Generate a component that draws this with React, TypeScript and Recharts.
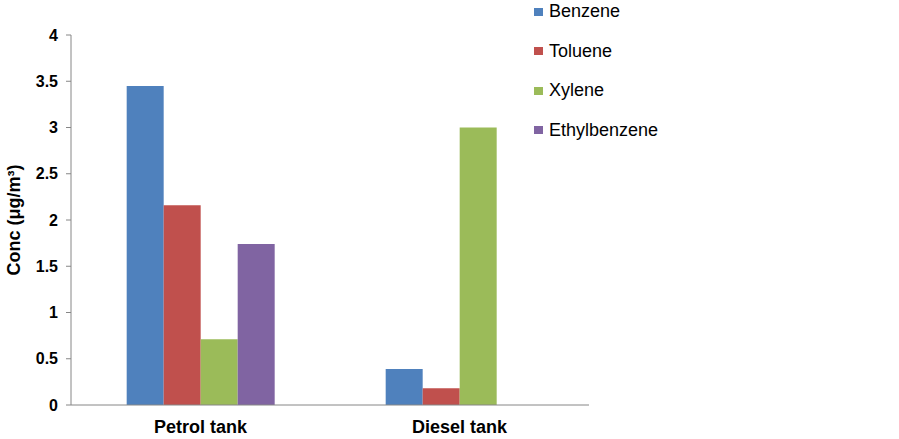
import { Bar, BarChart, XAxis, YAxis } from "recharts"

const tanks = ["Petrol tank", "Diesel tank"]
const benzene = [3.45, 0.39]
const toluene = [2.16, 0.18]
const xylene = [0.71, 3.0]
const ethylbenzene = [1.74, 0]
const yTicks = [0, 0.5, 1, 1.5, 2, 2.5, 3, 3.5, 4]

const series = [
  { key: "Benzene", color: "#4F81BD" },
  { key: "Toluene", color: "#C0504D" },
  { key: "Xylene", color: "#9BBB59" },
  { key: "Ethylbenzene", color: "#8064A2" },
]

const data = tanks.map((name, i) => ({
  name,
  Benzene: benzene[i],
  Toluene: toluene[i],
  Xylene: xylene[i],
  Ethylbenzene: ethylbenzene[i],
}))

const font = "'Liberation Sans', Arial, sans-serif"

// legend drawn as plain html so it doesn't steal room from the plot
function LegendBox() {
  return (
    <div style={{ position: "absolute", left: 534, top: -8, fontFamily: font, fontSize: 18, color: "#000" }}>
      {series.map((s) => (
        <div key={s.key} style={{ height: 39.5, display: "flex", alignItems: "center" }}>
          <span style={{ width: 9, height: 8, background: s.color, marginRight: 6, display: "inline-block" }} />
          {s.key}
        </div>
      ))}
    </div>
  )
}

export default function App() {
  return (
    <div style={{ position: "absolute", left: 0, top: 0, width: 899, height: 439, background: "#fff" }}>
      <BarChart
        width={899}
        height={439}
        data={data}
        margin={{ top: 35, right: 310, bottom: 4, left: 0 }}
        barCategoryGap="21.5%"
        barGap={0}
      >
        <XAxis
          dataKey="name"
          height={30}
          tickLine={false}
          tickMargin={9}
          axisLine={{ stroke: "#868686" }}
          tick={{ fontFamily: font, fontSize: 18, fontWeight: "bold", fill: "#000" }}
        />
        <YAxis
          width={71}
          domain={[0, 4]}
          ticks={yTicks}
          tickSize={5}
          tickMargin={8}
          axisLine={{ stroke: "#868686" }}
          tickLine={{ stroke: "#868686" }}
          tick={{ fontFamily: font, fontSize: 16, fontWeight: "bold", fill: "#000" }}
          label={{
            value: "Conc (μg/m³)",
            angle: -90,
            position: "insideLeft",
            offset: 14,
            style: { fontFamily: font, fontSize: 18, fontWeight: "bold", fill: "#000", textAnchor: "middle" },
          }}
        />
        {series.map((s) => (
          <Bar key={s.key} dataKey={s.key} fill={s.color} isAnimationActive={false} />
        ))}
      </BarChart>
      <LegendBox />
    </div>
  )
}
